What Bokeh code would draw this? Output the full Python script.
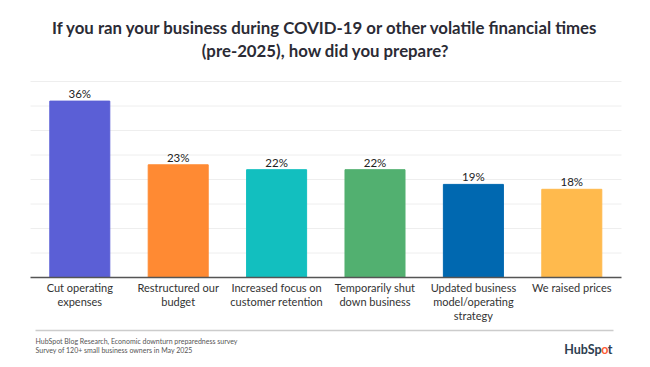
from bokeh.plotting import figure
from bokeh.models import Range1d, ColumnDataSource
from bokeh.core.properties import value
from bokeh.embed import file_html
from bokeh.resources import INLINE

categories = ["Cut operating expenses", "Restructured our budget",
              "Increased focus on customer retention", "Temporarily shut down business",
              "Updated business model/operating strategy", "We raised prices"]
wrapped = ["Cut operating\nexpenses", "Restructured our\nbudget",
           "Increased focus on\ncustomer retention", "Temporarily shut\ndown business",
           "Updated business\nmodel/operating\nstrategy", "We raised prices"]
values = [36, 23, 22, 22, 19, 18]
colors = ["#5B5FD6", "#FF8A33", "#12BFBF", "#52B070", "#0068B0", "#FFBA4D"]
grid_ticks = [5, 10, 15, 20, 25, 30, 35, 40]
title_lines = ["If you ran your business during COVID-19 or other volatile financial times",
               "(pre-2025), how did you prepare?"]
footer_lines = ["HubSpot Blog Research, Economic downturn preparedness survey",
                "Survey of 120+ small business owners in May 2025"]

FONT = "Lato"
W, H = 640, 360
SLOT = 98.4          # px per category
X0 = 79.3            # px centre of first category
PX_PER_PCT = 4.9     # px per percentage point
BASE = 277.0         # px of the zero line from top

def px2x(px):
    return (px - X0) / SLOT

def py2y(py):
    return (BASE - py) / PX_PER_PCT

idx = list(range(len(categories)))
src = ColumnDataSource(dict(x=idx, cat=categories, val=values, col=colors,
                            lab=[f"{v}%" for v in values], wrap=wrapped))

p = figure(width=W, height=H, output_backend="svg", toolbar_location=None,
           x_axis_location=None, y_axis_location=None,
           x_range=Range1d(px2x(0), px2x(W)), y_range=Range1d(py2y(H), py2y(0)),
           min_border=0)
p.min_border_left = p.min_border_right = p.min_border_top = p.min_border_bottom = 0
p.outline_line_color = None
p.grid.visible = False

xl, xr = px2x(30), px2x(621)

# gridlines
p.segment(x0=[xl] * len(grid_ticks), x1=[xr] * len(grid_ticks), y0=grid_ticks, y1=grid_ticks,
          line_color="#EEEEEE", line_width=1)

# bars
p.vbar(x="x", top="val", width=0.61, color="col", source=src)

# baseline
p.segment(x0=[xl], x1=[xr], y0=[0], y1=[0], line_color="#555555", line_width=1.5)

# value labels
p.text(x="x", y="val", text="lab", source=src, text_align="center",
       text_baseline="bottom", y_offset=-1, text_font=value(FONT),
       text_font_size="11.5px", text_color="#222222")

# category labels
p.text(x="x", y=py2y(280), text="wrap", source=src, text_align="center",
       text_baseline="top", text_font=value(FONT), text_font_size="11px",
       text_color="#333333", text_line_height=1.1)

# title
p.text(x=[px2x(325)] * 2, y=[py2y(26.7), py2y(50)], text=title_lines,
       text_align="center", text_baseline="middle", text_font=value(FONT),
       text_font_style="bold", text_font_size="16.8px", text_color="#2B2B35")

# footer rule
p.segment(x0=[px2x(35)], x1=[px2x(613)], y0=[py2y(330)], y1=[py2y(330)],
          line_color="#CCCCCC", line_width=1.5)
# footer text
p.text(x=[px2x(35)] * 2, y=[py2y(340.3), py2y(349.3)], text=footer_lines,
       text_align="left", text_baseline="middle", text_font=value(FONT),
       text_font_size="7px", text_color="#555555")

# logo text
logo_y = py2y(349)
p.text(x=[px2x(612)], y=[logo_y], text=["t"], text_align="right", text_baseline="middle",
       text_font=value(FONT), text_font_style="bold", text_font_size="12.5px",
       text_color="#2D3E50")
p.text(x=[px2x(608)], y=[logo_y], text=["o"], text_align="right", text_baseline="middle",
       text_font=value(FONT), text_font_style="bold", text_font_size="12.5px",
       text_color="#FF5C35")
p.text(x=[px2x(601)], y=[logo_y], text=["HubSp"], text_align="right", text_baseline="middle",
       text_font=value(FONT), text_font_style="bold", text_font_size="12.5px",
       text_color="#2D3E50")

open("out.html", "w").write(file_html(p, INLINE))
